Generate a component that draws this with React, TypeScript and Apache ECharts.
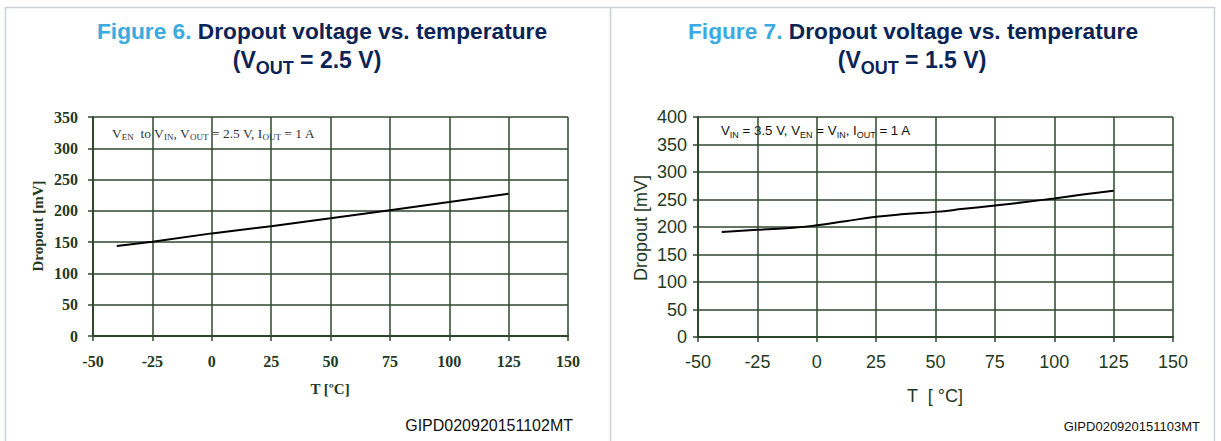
import React, { useEffect, useRef } from "react";
import * as echarts from "echarts";

const tempTicks = [-50, -25, 0, 25, 50, 75, 100, 125, 150];
const tempsA = [-40, -25, 0, 25, 50, 75, 100, 125];
const dropoutA = [144, 150.5, 164, 175.5, 188, 201, 214, 227.5];
const tempsB = [-40, -25, -10, 0, 12, 25, 37, 50, 62, 75, 87, 100, 112, 125];
const dropoutB = [191, 195, 198.5, 203, 210.5, 218.5, 223.5, 227.5, 233, 239, 245, 252, 259, 266];

const GRID = "#2c472c";
const LABEL = "#1f3a1f";
const NAVY = "#0b2456";
const BLUE = "#3aaae0";
const FRAME = "#c9d2da";

export default function App() {
  const ref = useRef<HTMLDivElement>(null);
  useEffect(() => {
    if (!ref.current) return;
    const chart = echarts.init(ref.current, null, { renderer: "svg" });
    const serif = "'Liberation Serif', 'Times New Roman', serif";
    const sans = "'Liberation Sans', Arial, sans-serif";

    const xAxisBase = (gi: number, font: string, size: number, bold: boolean, margin: number) => ({
      type: "value",
      gridIndex: gi,
      min: tempTicks[0],
      max: tempTicks[tempTicks.length - 1],
      interval: 25,
      axisLine: { show: true, onZero: false, lineStyle: { color: GRID, width: 2 } },
      axisTick: { show: true, length: 5, lineStyle: { color: GRID, width: 1.5 } },
      splitLine: { show: true, lineStyle: { color: GRID, width: 1.5 } },
      axisLabel: {
        fontFamily: font,
        fontSize: size,
        fontWeight: bold ? "bold" : "normal",
        color: LABEL,
        margin,
      },
    });
    const yAxisBase = (gi: number, max: number, font: string, size: number, bold: boolean, margin: number) => ({
      type: "value",
      gridIndex: gi,
      min: 0,
      max,
      interval: 50,
      axisLine: { show: true, onZero: false, lineStyle: { color: GRID, width: 2 } },
      axisTick: { show: true, length: 5, lineStyle: { color: GRID, width: 1.5 } },
      splitLine: { show: true, lineStyle: { color: GRID, width: 1.5 } },
      axisLabel: {
        fontFamily: font,
        fontSize: size,
        fontWeight: bold ? "bold" : "normal",
        color: LABEL,
        margin,
      },
    });

    const titleRich = (size: number, subSize: number) => ({
      blue: { fontFamily: sans, fontSize: size, fontWeight: "bold", fill: BLUE, lineHeight: size + 4, verticalAlign: "top" },
      navy: { fontFamily: sans, fontSize: size, fontWeight: "bold", fill: NAVY, lineHeight: size + 4, verticalAlign: "top" },
      sub: {
        fontFamily: sans,
        fontSize: subSize,
        fontWeight: "bold",
        fill: NAVY,
        lineHeight: subSize,
        padding: [size - subSize + 6, 0, 0, 0],
        verticalAlign: "top",
      },
    });

    const annRich = (font: string, color: string, size: number, subSize: number) => ({
      b: { fontFamily: font, fontSize: size, fill: color, lineHeight: size + 1, verticalAlign: "top" },
      s: {
        fontFamily: font,
        fontSize: subSize,
        fill: color,
        lineHeight: subSize,
        padding: [size - subSize + 2, 0, 0, 0],
        verticalAlign: "top",
      },
    });

    const option: any = {
      animation: false,
      backgroundColor: "#ffffff",
      grid: [
        { left: 93, top: 117, width: 475, height: 219, containLabel: false },
        { left: 698, top: 117, width: 475, height: 220, containLabel: false },
      ],
      xAxis: [xAxisBase(0, serif, 16, true, 17), xAxisBase(1, sans, 18, false, 16)],
      yAxis: [yAxisBase(0, 350, serif, 16, true, 15), yAxisBase(1, 400, sans, 18, false, 11)],
      series: [
        {
          type: "line",
          xAxisIndex: 0,
          yAxisIndex: 0,
          data: tempsA.map((t, i) => [t, dropoutA[i]]),
          showSymbol: false,
          lineStyle: { color: "#000", width: 2 },
        },
        {
          type: "line",
          xAxisIndex: 1,
          yAxisIndex: 1,
          smooth: true,
          data: tempsB.map((t, i) => [t, dropoutB[i]]),
          showSymbol: false,
          lineStyle: { color: "#000", width: 2 },
        },
      ],
      graphic: [
        { type: "line", shape: { x1: 5, y1: 7.5, x2: 1214, y2: 7.5 }, style: { stroke: FRAME, lineWidth: 1.5 } },
        { type: "line", shape: { x1: 5.5, y1: 7, x2: 5.5, y2: 441 }, style: { stroke: FRAME, lineWidth: 1.5 } },
        { type: "line", shape: { x1: 610.5, y1: 7, x2: 610.5, y2: 441 }, style: { stroke: FRAME, lineWidth: 1.5 } },
        { type: "line", shape: { x1: 1214.5, y1: 7, x2: 1214.5, y2: 441 }, style: { stroke: FRAME, lineWidth: 1.5 } },
        {
          type: "text",
          x: 322,
          y: 19,
          style: {
            text: "{blue|Figure 6. }{navy|Dropout voltage vs. temperature}",
            rich: titleRich(22.7, 17),
            align: "center",
          },
        },
        {
          type: "text",
          x: 307,
          y: 48,
          style: { text: "{navy|(V}{sub|OUT}{navy| = 2.5 V)}", rich: titleRich(23, 18), align: "center" },
        },
        {
          type: "text",
          x: 913,
          y: 19,
          style: {
            text: "{blue|Figure 7. }{navy|Dropout voltage vs. temperature}",
            rich: titleRich(22.7, 17),
            align: "center",
          },
        },
        {
          type: "text",
          x: 912,
          y: 48,
          style: { text: "{navy|(V}{sub|OUT}{navy| = 1.5 V)}", rich: titleRich(23, 18), align: "center" },
        },
        {
          type: "text",
          x: 112,
          y: 126,
          style: {
            text: "{b|V}{s|EN}{b|  to V}{s|IN}{b|, V}{s|OUT}{b| = 2.5 V, I}{s|OUT}{b| = 1 A}",
            rich: annRich(serif, "#333", 13.5, 9),
          },
        },
        {
          type: "text",
          x: 721,
          y: 124,
          style: {
            text: "{b|V}{s|IN}{b| = 3.5 V, V}{s|EN}{b| = V}{s|IN}{b|, I}{s|OUT}{b| = 1 A}",
            rich: annRich(sans, "#111", 13.3, 9),
          },
        },
        {
          type: "text",
          x: 38,
          y: 226,
          rotation: Math.PI / 2,
          style: {
            text: "Dropout [mV]",
            font: `bold 15px ${serif}`,
            fill: LABEL,
            align: "center",
            verticalAlign: "middle",
          },
        },
        {
          type: "text",
          x: 641,
          y: 228,
          rotation: Math.PI / 2,
          style: {
            text: "Dropout [mV]",
            font: `18px ${sans}`,
            fill: LABEL,
            align: "center",
            verticalAlign: "middle",
          },
        },
        {
          type: "text",
          x: 330,
          y: 389,
          style: {
            text: "T [ºC]",
            font: `bold 15px ${serif}`,
            fill: LABEL,
            align: "center",
            verticalAlign: "middle",
          },
        },
        {
          type: "text",
          x: 935,
          y: 396,
          style: {
            text: "T  [ °C]",
            font: `18px ${sans}`,
            fill: LABEL,
            align: "center",
            verticalAlign: "middle",
          },
        },
        {
          type: "text",
          x: 573,
          y: 425,
          style: {
            text: "GIPD020920151102MT",
            font: `16px ${sans}`,
            fill: "#111",
            align: "right",
            verticalAlign: "middle",
          },
        },
        {
          type: "text",
          x: 1200,
          y: 426,
          style: {
            text: "GIPD020920151103MT",
            font: `13px ${sans}`,
            fill: "#111",
            align: "right",
            verticalAlign: "middle",
          },
        },
      ],
    };
    chart.setOption(option);
    return () => chart.dispose();
  }, []);
  return (
    <div
      ref={ref}
      style={{ position: "fixed", left: 0, top: 0, width: 1221, height: 441 }}
    />
  );
}
